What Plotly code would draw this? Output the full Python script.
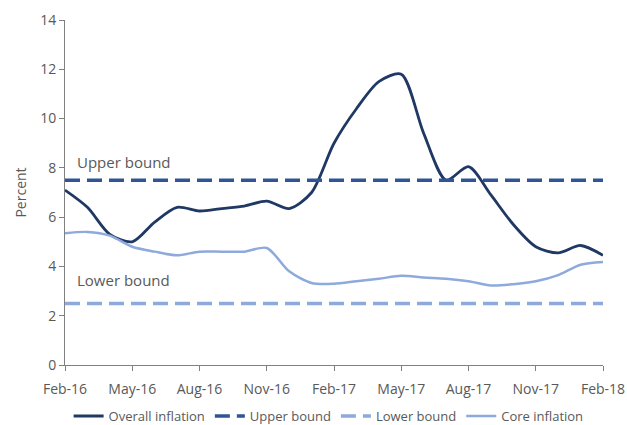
import plotly.graph_objects as go

months = ["Feb-16","Mar-16","Apr-16","May-16","Jun-16","Jul-16","Aug-16","Sep-16","Oct-16","Nov-16","Dec-16","Jan-17",
          "Feb-17","Mar-17","Apr-17","May-17","Jun-17","Jul-17","Aug-17","Sep-17","Oct-17","Nov-17","Dec-17","Jan-18","Feb-18"]
overall = [7.1, 6.4, 5.3, 5.0, 5.8, 6.4, 6.25, 6.35, 6.45, 6.65, 6.35, 7.0,
           9.0, 10.4, 11.5, 11.8, 9.4, 7.5, 8.05, 6.9, 5.7, 4.8, 4.55, 4.85, 4.45]
core = [5.35, 5.4, 5.25, 4.8, 4.6, 4.45, 4.6, 4.6, 4.6, 4.75, 3.8, 3.33,
        3.3, 3.4, 3.5, 3.62, 3.55, 3.5, 3.4, 3.23, 3.28, 3.4, 3.65, 4.07, 4.18]
upper = [7.5] * len(months)
lower = [2.5] * len(months)
tick_labels = ["Feb-16","May-16","Aug-16","Nov-16","Feb-17","May-17","Aug-17","Nov-17","Feb-18"]

NAVY = "#1F3864"
MID = "#2F5597"
LIGHT = "#8EA9DB"
TXT = "#595959"
AX = "#808080"

fig = go.Figure()
fig.add_trace(go.Scatter(x=months, y=overall, name="Overall inflation", mode="lines",
                         line=dict(color=NAVY, width=2.8, shape="spline", smoothing=0.8)))
fig.add_trace(go.Scatter(x=months, y=upper, name="Upper bound", mode="lines",
                         line=dict(color=MID, width=3.5, dash="15px,7px")))
fig.add_trace(go.Scatter(x=months, y=lower, name="Lower bound", mode="lines",
                         line=dict(color=LIGHT, width=3.5, dash="15px,7px")))
fig.add_trace(go.Scatter(x=months, y=core, name="Core inflation", mode="lines",
                         line=dict(color=LIGHT, width=2.5, shape="spline", smoothing=0.8)))

fig.add_annotation(text="Upper bound", xref="paper", yref="y", x=0.018, y=8.25,
                   xanchor="left", yanchor="middle", showarrow=False,
                   font=dict(size=15, color=TXT))
fig.add_annotation(text="Lower bound", xref="paper", yref="y", x=0.018, y=3.45,
                   xanchor="left", yanchor="middle", showarrow=False,
                   font=dict(size=15, color=TXT))

fig.update_layout(
    width=627, height=425,
    margin=dict(l=65, r=24, t=20, b=60, autoexpand=False),
    plot_bgcolor="white", paper_bgcolor="white",
    font=dict(family="Open Sans", size=13, color=TXT),
    showlegend=True,
    legend=dict(orientation="h", x=0.49, xanchor="center",
                y=-0.148, yanchor="middle", font=dict(size=13, color=TXT),
                itemwidth=30, tracegroupgap=0, bgcolor="rgba(0,0,0,0)"),
    xaxis=dict(type="category", range=[0, 24], tickmode="array", tickvals=tick_labels,
               ticktext=tick_labels, showgrid=False, showline=True, linecolor=AX, linewidth=1,
               ticks="outside", ticklen=5, tickcolor=AX, zeroline=False, ticklabelstandoff=6,
               automargin=False, tickfont=dict(size=14, color=TXT)),
    yaxis=dict(range=[0, 14], dtick=2, showgrid=False, showline=True, linecolor=AX, linewidth=1,
               ticks="outside", ticklen=5, tickcolor=AX, zeroline=False, automargin=False,
               title=dict(text="Percent", font=dict(size=14, color=TXT), standoff=10),
               tickfont=dict(size=14, color=TXT)),
)

fig.write_html("out.html")
